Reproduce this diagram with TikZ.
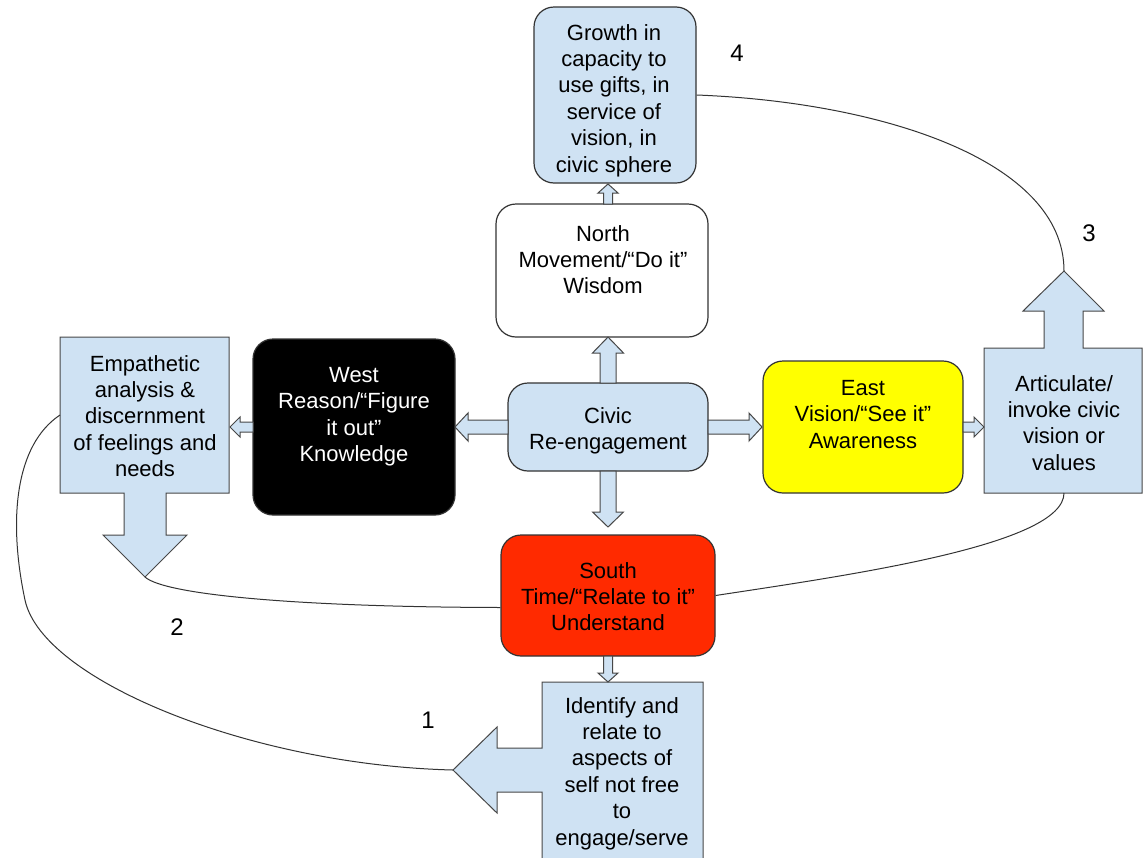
\documentclass[tikz,border=0pt]{standalone}
\usepackage{fontspec}
\setmainfont{Liberation Sans}
\definecolor{lblue}{HTML}{CFE2F3}
\definecolor{redbox}{HTML}{FF2A00}
\definecolor{yelbox}{HTML}{FFFF00}
\definecolor{edge}{HTML}{333333}
\newcommand\bfz{\fontsize{22pt}{26.4pt}\selectfont}
\newcommand\numfz{\fontsize{24pt}{28pt}\selectfont}
\newcommand\blkarr[7]{% tip x, tip y, angle, length, shaft half width, head half width, head length
  \draw[blockarrow, shift={(#1,#2)}, rotate=#3]
    (0,0) -- (-#7,#6) -- (-#7,#5) -- (-#4,#5) -- (-#4,-#5) -- (-#7,-#5) -- (-#7,-#6) -- cycle;}
\begin{document}
\begin{tikzpicture}[x=1pt,y=-1pt,
  rbox/.style={draw=edge, line width=1.2pt, rounded corners=20pt, rectangle, inner sep=0pt},
  blockarrow/.style={draw=edge!90, fill=lblue, line width=1pt, line join=miter},
  callout/.style={draw=edge!90, fill=lblue, line width=1pt, line join=miter},
  conn/.style={draw=edge, line width=1pt},
  txt/.style={font=\bfz, align=center, inner sep=0pt, anchor=north},
  num/.style={font=\numfz, inner sep=0pt}]
\fill[white] (0,0) rectangle (1143,857);
\path[use as bounding box] (0,0) rectangle (1143,857);
\clip (0,0) rectangle (1143,857);

% ---- rounded boxes ----
\node[rbox, fill=lblue, minimum width=162pt, minimum height=176pt] (growth) at (615,95) {};
\node[rbox, fill=white, minimum width=212pt, minimum height=133pt] (north) at (602,270.5) {};
\node[rbox, fill=lblue, minimum width=200pt, minimum height=88pt] (civic) at (608,427) {};
\node[rbox, fill=black, minimum width=202pt, minimum height=176pt] (west) at (354,427) {};
\node[rbox, fill=yelbox, minimum width=200pt, minimum height=132pt] (east) at (863,427) {};
\node[rbox, fill=redbox, minimum width=214pt, minimum height=121pt] (southbox) at (608,595.5) {};

% ---- callout shapes ----
\draw[callout] (60,337) -- (229,337) -- (229,493) -- (166,493) -- (166,535) -- (187,535)
  -- (145,577) -- (103,535) -- (124,535) -- (124,493) -- (60,493) -- cycle;
\draw[callout] (984,348) -- (1044,348) -- (1044,311) -- (1023,311) -- (1064,271) -- (1104,311)
  -- (1083,311) -- (1083,348) -- (1142,348) -- (1142,493) -- (984,493) -- cycle;
\draw[callout] (542,682) -- (703,682) -- (703,880) -- (542,880) -- (542,792) -- (497,792)
  -- (497,813) -- (453,770) -- (497,727) -- (497,748) -- (542,748) -- cycle;
\coordinate (empL) at (60,415);
\coordinate (empTip) at (145,577);
\coordinate (artTip) at (1064,271);
\coordinate (artB) at (1064,493);
\coordinate (idTip) at (453,770);

% ---- block arrows ----
\blkarr{608}{184}{90}{20}{4.5}{10}{9}
\blkarr{608}{337}{90}{46}{8}{15.5}{16}
\blkarr{608}{527}{-90}{56}{8}{15.5}{15}
\blkarr{762}{427}{0}{54}{7}{14}{13}
\blkarr{455}{427}{180}{53}{7}{14}{13}
\blkarr{230}{427}{180}{23}{5}{10}{10}
\blkarr{984}{427}{0}{21}{5}{10}{10}
\blkarr{608}{682}{-90}{26}{4.5}{10}{9}

% ---- texts ----
\node[txt] (tGrowth) at (614,24) {Growth in\\capacity to\\use gifts, in\\service of\\vision, in\\civic sphere};
\node[txt] (tNorth) at (603,225) {North\\Movement/“Do it”\\Wisdom};
\node[txt] (tCivic) at (608,407) {Civic\\Re-engagement};
\node[txt, text=white] (tWest) at (354,367) {West\\Reason/“Figure\\it out”\\Knowledge};
\node[txt] (tEmp) at (145,355) {Empathetic\\analysis \&\\discernment\\of feelings and\\needs};
\node[txt] (tEast) at (863,380) {East\\Vision/“See it”\\Awareness};
\node[txt] (tArt) at (1064,375) {Articulate/\\invoke civic\\vision or\\values};
\node[txt] (tSouth) at (608,562) {South\\Time/“Relate to it”\\Understand};
\node[txt] (tId) at (622,697) {Identify and\\relate to\\aspects of\\self not free\\to\\engage/serve};

% ---- numbers ----
\node[num] (n4) at (737,53) {4};
\node[num] (n3) at (1089,233) {3};
\node[num] (n2) at (177,627) {2};
\node[num] (n1) at (428,720) {1};

% ---- connectors ----
\draw[conn] (growth.east) .. controls (880,102) and (1064,160) .. (artTip);
\draw[conn] (artB) .. controls (1064,545) and (850,575) .. (southbox.east);
\draw[conn] (empTip) .. controls (165,595) and (300,607) .. ([yshift=-12pt]southbox.west);
\draw[conn] (empL) .. controls (15,445) and (8,520) .. (25,600) .. controls (42,680) and (250,765) .. (idTip);
\end{tikzpicture}
\end{document}
